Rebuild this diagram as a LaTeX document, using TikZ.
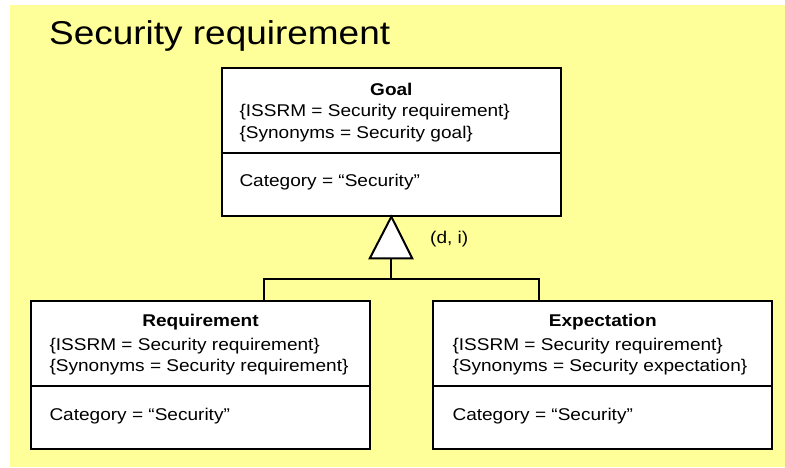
\documentclass[tikz,border=0pt]{standalone}
\usepackage{fontspec}
\setmainfont{Liberation Sans}[FakeStretch=1.12]
\definecolor{bgyellow}{HTML}{FFFF99}
\begin{document}
\begin{tikzpicture}[x=1pt,y=-1pt,
  classbox/.style={draw=black, line width=2pt, fill=white, inner sep=0pt},
  conn/.style={draw=black, line width=2pt},
  txt/.style={anchor=base west, inner sep=0pt, font=\fontsize{17}{20}\selectfont},
  ttl/.style={anchor=base, inner sep=0pt, font=\fontsize{17}{20}\selectfont\bfseries}]
\useasboundingbox (0,0) rectangle (785,467);
\fill[bgyellow] (10,5) rectangle (785,467);

% title
\node[anchor=base west, inner sep=0pt, font=\fontsize{33}{38}\selectfont] (title) at (49,44) {Security requirement};

% Goal class
\node[classbox, minimum width=339.3pt, minimum height=147.7pt] (goal) at (391.35,141.85) {};
\draw[conn] (goal.west |- 0,152.7) -- (goal.east |- 0,152.7);
\node[ttl] (goalname) at (391.35,95) {Goal};
\node[txt] (goal1) at (239.3,116.7) {\{ISSRM = Security requirement\}};
\node[txt] (goal2) at (239.3,138.3) {\{Synonyms = Security goal\}};
\node[txt] (goal3) at (239.3,186.7) {Category = “Security”};

% Requirement class
\node[classbox, minimum width=339pt, minimum height=148pt] (req) at (200.5,375) {};
\draw[conn] (req.west |- 0,385.7) -- (req.east |- 0,385.7);
\node[ttl] (reqname) at (200.5,326.7) {Requirement};
\node[txt] (req1) at (49.3,350) {\{ISSRM = Security requirement\}};
\node[txt] (req2) at (49.3,371.7) {\{Synonyms = Security requirement\}};
\node[txt] (req3) at (49.3,420) {Category = “Security”};

% Expectation class
\node[classbox, minimum width=339pt, minimum height=148pt] (exp) at (602.8,375) {};
\draw[conn] (exp.west |- 0,385.7) -- (exp.east |- 0,385.7);
\node[ttl] (expname) at (602.8,326.7) {Expectation};
\node[txt] (exp1) at (452.3,350) {\{ISSRM = Security requirement\}};
\node[txt] (exp2) at (452.3,371.7) {\{Synonyms = Security expectation\}};
\node[txt] (exp3) at (452.3,420) {Category = “Security”};

% generalization
\coordinate (base) at (391,258.3);
\coordinate (bar) at (391,279.3);
\draw[conn, fill=white, line join=miter] (goal.south) -- (369.8,258.3) -- (412.2,258.3) -- cycle;
\draw[conn] (base) -- (bar) -| ([xshift=63.8pt]req.north);
\draw[conn] (bar) -| ([xshift=-63.8pt]exp.north);
\node[txt] (gset) at (430,243.3) {(d, i)};
\end{tikzpicture}
\end{document}
